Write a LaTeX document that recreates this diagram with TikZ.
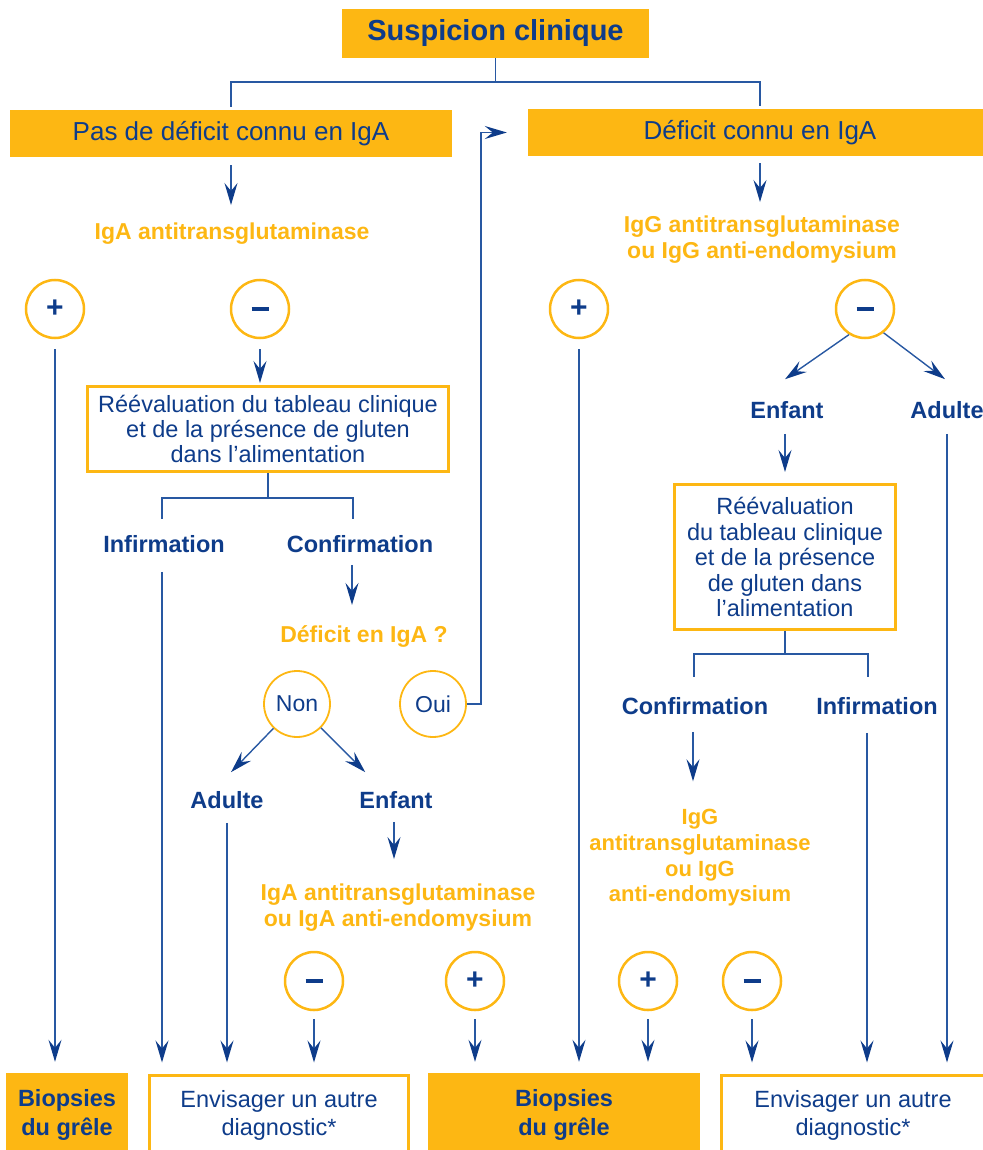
\documentclass[tikz,border=0pt]{standalone}
\usepackage{fontspec}
\setmainfont{Liberation Sans}
\usepackage{tikz}
\usetikzlibrary{arrows.meta}
\definecolor{orng}{RGB}{253,183,19}
\definecolor{navy}{RGB}{14,60,138}
\definecolor{wire}{RGB}{40,88,162}

\begin{document}
\begin{tikzpicture}[x=1pt, y=-1pt,
	box/.style={fill=orng, text=navy, inner sep=0pt, align=center},
	frame/.style={draw=orng, line width=3pt, text=navy, inner sep=0pt, align=center},
	test/.style={text=orng, inner sep=0pt, align=center, font=\bfseries\fontsize{23}{26}\selectfont},
	choice/.style={text=navy, inner sep=0pt, font=\bfseries\fontsize{23.5}{26}\selectfont},
	sign/.style={shape=circle, draw=orng, line width=2.5pt, minimum size=58pt, inner sep=0pt, text=navy, font=\bfseries\fontsize{30}{30}\selectfont},
	answer/.style={shape=circle, draw=orng, line width=1.8pt, minimum size=66pt, inner sep=0pt, text=navy, font=\fontsize{23}{23}\selectfont},
	link/.style={color=wire, line width=1.4pt},
	arrow/.style={-{Stealth[length=22pt, width=13pt, inset=8pt, color=navy]}}]
	\useasboundingbox (0,0) rectangle (982,1150);

	\node(title) at (495.5,33.5)[box, minimum width=307pt, minimum height=49pt, font=\bfseries\fontsize{29}{34}\selectfont] {Suspicion clinique};
	\node(pas) at (231,133.5)[box, minimum width=442pt, minimum height=47pt, font=\fontsize{26}{30}\selectfont] {Pas de déficit connu en IgA};
	\node(deficit) at (760,132.5)[box, minimum width=464pt, minimum height=47pt, font=\fontsize{26}{30}\selectfont] {Déficit connu en IgA};

	\node(iga1) at (232,234)[test] {IgA antitransglutaminase};
	\node(igg1) at (762,240)[test] {IgG antitransglutaminase\\ou IgG anti-endomysium};

	\node(plusL) at (55,309)[sign] {+};
	\node(minusL) at (260,309)[sign] {\rule{17pt}{3.5pt}};
	\node(plusR) at (579,309)[sign] {+};
	\node(minusR) at (865,309)[sign] {\rule{17pt}{3.5pt}};

	\node(reevalL) at (268,429)[frame, minimum width=361pt, minimum height=85pt, font=\fontsize{23.5}{25}\selectfont] {Réévaluation du tableau clinique\\et de la présence de gluten\\dans l’alimentation};
	\node(enfantR) at (787,410)[choice] {Enfant};
	\node(adulteR) at (947,410)[choice] {Adulte};
	\node(reevalR) at (785,557)[frame, minimum width=221pt, minimum height=145pt, font=\fontsize{23.5}{25.5}\selectfont] {Réévaluation\\du tableau clinique\\et de la présence\\de gluten dans\\l’alimentation};

	\node(infL) at (164,544)[choice] {Infirmation};
	\node(confL) at (360,544)[choice] {Confirmation};
	\node(defq) at (364,636)[test] {Déficit en IgA ?};
	\node(non) at (297,704)[answer] {Non};
	\node(oui) at (433,704)[answer] {Oui};
	\node(adulteL) at (227,800)[choice] {Adulte};
	\node(enfantL) at (396,800)[choice] {Enfant};
	\node(iga2) at (398,908)[test] {IgA antitransglutaminase\\ou IgA anti-endomysium};

	\node(confR) at (695,706)[choice] {Confirmation};
	\node(infR) at (877,706)[choice] {Infirmation};
	\node(igg2) at (700,858)[test, font=\bfseries\fontsize{22}{25.7}\selectfont] {IgG\\antitransglutaminase\\ou IgG\\anti-endomysium};

	\node(minus2) at (314,981)[sign] {\rule{17pt}{3.5pt}};
	\node(plus2) at (475,981)[sign] {+};
	\node(plus3) at (648,981)[sign] {+};
	\node(minus3) at (752,981)[sign] {\rule{17pt}{3.5pt}};

	\node(bioA) at (67,1115)[box, minimum width=122pt, minimum height=84pt, font=\bfseries\fontsize{23.5}{29}\selectfont] {Biopsies\\du grêle};
	\node(autreA) at (279,1115)[frame, minimum width=259pt, minimum height=80pt, font=\fontsize{23.5}{28}\selectfont] {Envisager un autre\\diagnostic*};
	\node(bioB) at (564,1115)[box, minimum width=272pt, minimum height=84pt, font=\bfseries\fontsize{23.5}{29}\selectfont] {Biopsies\\du grêle};
	\node(autreB) at (853,1115)[frame, minimum width=263pt, minimum height=80pt, font=\fontsize{23.5}{28}\selectfont] {Envisager un autre\\diagnostic*};

	\draw [link] (title.south) -- ++(0,24) -| ([yshift=3pt]pas.north);
	\draw [link] (title.south) -- ++(0,24) -| ([yshift=3pt]deficit.north);
	\draw [link] (reevalL.south) -- ++(0,25) -| ([xshift=-2pt,yshift=16pt]infL.north);
	\draw [link] (reevalL.south) -- ++(0,25) -| ([xshift=-7pt,yshift=16pt]confL.north);
	\draw [link] (reevalR.south) -- ++(0,23) -| ([xshift=-1pt,yshift=20pt]confR.north);
	\draw [link] (reevalR.south) -- ++(0,23) -| ([xshift=-9pt,yshift=20pt]infR.north);
	\draw [arrow] [link] (oui.east) -- ++(14,0) |- ([xshift=-21pt]deficit.west);

	\path [arrow] [link]
	(pas.south) edge [shorten <=8pt, shorten >=18pt] (pas.south |- iga1.north)
	(deficit.south) edge [shorten <=7pt, shorten >=14pt] (deficit.south |- igg1.north)
	(minusL) edge [shorten <=10pt, shorten >=2pt] (minusL |- reevalL.north)
	(plusL) edge [shorten <=10pt, shorten >=11pt] (plusL |- bioA.north)
	(plusR) edge [shorten <=10pt, shorten >=11pt] (plusR |- bioB.north)
	([xshift=-2pt]infL.south) edge [shorten <=19pt, shorten >=11pt] ([xshift=-2pt]infL.south |- autreA.north)
	([xshift=-8pt]confL.south) edge [shorten <=12pt, shorten >=20pt] ([xshift=-8pt]confL.south |- defq.north)
	(non) edge ([xshift=4pt,yshift=19pt]adulteL.north)
	(non) edge ([xshift=6pt,yshift=19pt]enfantL.north west)
	(adulteL) edge [shorten <=14pt, shorten >=11pt] (adulteL |- autreA.north)
	([xshift=-2pt]enfantL.south) edge [shorten <=13pt, shorten >=25pt] ([xshift=-2pt]enfantL.south |- iga2.north)
	(minus2) edge [shorten <=8pt, shorten >=11pt] (minus2 |- autreA.north)
	(plus2) edge [shorten <=8pt, shorten >=11pt] (plus2 |- bioB.north)
	(plus3) edge [shorten <=8pt, shorten >=11pt] (plus3 |- bioB.north)
	(minus3) edge [shorten <=8pt, shorten >=11pt] (minus3 |- autreB.north)
	(minusR.238) edge ([xshift=-2pt,yshift=22pt]enfantR.north)
	(minusR.308) edge ([xshift=-2pt,yshift=22pt]adulteR.north)
	([xshift=-2pt]enfantR.south) edge [shorten <=15pt, shorten >=11pt] ([xshift=-2pt]enfantR.south |- reevalR.north)
	(adulteR) edge [shorten <=15pt, shorten >=11pt] (adulteR |- autreB.north)
	([xshift=-2pt]confR.south) edge [shorten <=17pt, shorten >=28pt] ([xshift=-2pt]confR.south |- igg2.north)
	([xshift=-10pt]infR.south) edge [shorten <=18pt, shorten >=11pt] ([xshift=-10pt]infR.south |- autreB.north);
\end{tikzpicture}
\end{document}
